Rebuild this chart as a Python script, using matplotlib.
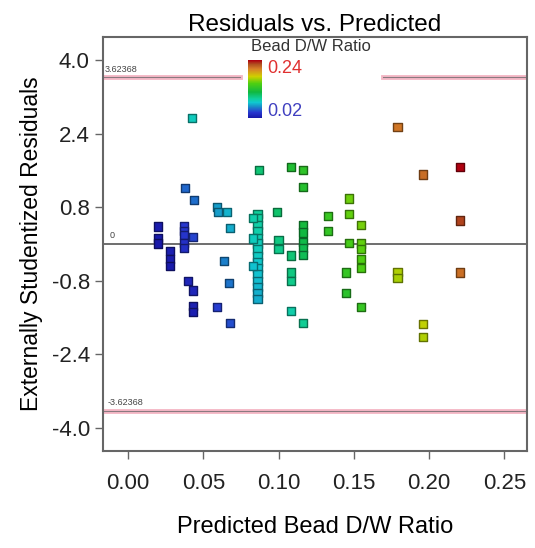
import numpy as np
import matplotlib
matplotlib.use("Agg")
import matplotlib.pyplot as plt
from matplotlib.colors import LinearSegmentedColormap, Normalize, to_rgb

plt.rcParams['font.family'] = ['Liberation Sans', 'DejaVu Sans']

# Predicted value, externally studentized residual, actual (colour) value
predicted = [0.020, 0.020, 0.020, 0.028, 0.028, 0.028,
             0.037, 0.037, 0.037, 0.037, 0.037, 0.043, 0.038, 0.044,
             0.040, 0.043, 0.043, 0.043, 0.0425,
             0.059, 0.060, 0.066, 0.068, 0.064, 0.067, 0.059, 0.068,
             0.086, 0.086, 0.086, 0.086, 0.086, 0.086, 0.086, 0.086,
             0.086, 0.086, 0.086, 0.086, 0.086, 0.086, 0.086,
             0.083, 0.083, 0.083, 0.087,
             0.099, 0.100, 0.100,
             0.108, 0.108, 0.108, 0.108, 0.108,
             0.116, 0.116, 0.116, 0.116, 0.116, 0.116, 0.116, 0.116,
             0.133, 0.133,
             0.147, 0.147, 0.147,
             0.155, 0.155, 0.155, 0.155, 0.155, 0.155,
             0.145, 0.145,
             0.179, 0.179, 0.179,
             0.196, 0.196, 0.196,
             0.2205, 0.2205, 0.2205]
residuals = [0.38, 0.14, 0.01, -0.16, -0.32, -0.47,
             0.40, 0.29, 0.19, 0.03, -0.08, 0.16, 1.21, 0.95,
             -0.80, -1.01, -1.34, -1.47, 2.73,
             0.80, 0.69, 0.69, 0.34, -0.36, -0.84, -1.36, -1.71,
             0.66, 0.56, 0.42, 0.29, 0.14, 0.01, -0.12, -0.27,
             -0.40, -0.53, -0.66, -0.80, -0.93, -1.06, -1.19,
             0.56, 0.12, -0.47, 1.60,
             0.69, 0.08, -0.10,
             1.67, -0.25, -0.62, -0.80, -1.45,
             1.60, 1.23, 0.42, 0.25, 0.05, -0.08, -0.23, -1.71,
             0.60, 0.29,
             0.99, 0.66, 0.03,
             0.42, 0.01, -0.10, -0.32, -0.53, -1.36,
             -0.62, -1.06,
             2.54, -0.60, -0.73,
             1.51, -1.73, -2.02,
             1.67, 0.51, -0.62]
actual = [0.024, 0.022, 0.020, 0.026, 0.024, 0.022,
          0.042, 0.040, 0.039, 0.037, 0.036, 0.045, 0.054, 0.056,
          0.030, 0.030, 0.026, 0.025, 0.085,
          0.068, 0.068, 0.074, 0.072, 0.060, 0.057, 0.044, 0.048,
          0.094, 0.093, 0.091, 0.090, 0.088, 0.086, 0.085, 0.083,
          0.081, 0.080, 0.078, 0.076, 0.075, 0.073, 0.072,
          0.090, 0.085, 0.078, 0.105,
          0.107, 0.101, 0.099,
          0.128, 0.105, 0.101, 0.099, 0.090,
          0.135, 0.130, 0.121, 0.119, 0.117, 0.115, 0.113, 0.096,
          0.140, 0.137,
          0.158, 0.155, 0.147,
          0.160, 0.155, 0.154, 0.151, 0.149, 0.139,
          0.138, 0.133,
          0.210, 0.172, 0.170,
          0.214, 0.175, 0.172,
          0.240, 0.227, 0.213]

limit = 3.62368
color_min, color_max = 0.02, 0.24
x_ticks = [0.00, 0.05, 0.10, 0.15, 0.20, 0.25]
y_ticks = [-4.0, -2.4, -0.8, 0.8, 2.4, 4.0]

cmap = LinearSegmentedColormap.from_list("dx", [
    (0.00, '#1818a8'), (0.10, '#2838d0'), (0.20, '#1890c8'),
    (0.27, '#10c8d0'), (0.33, '#10d0a0'), (0.45, '#10b840'),
    (0.60, '#50d010'), (0.72, '#d0d000'), (0.85, '#d88028'),
    (0.93, '#b05020'), (1.00, '#b00010')])
norm = Normalize(color_min, color_max)

fig = plt.figure(figsize=(5.35, 5.48), dpi=100)
ax = fig.add_axes([0.1925, 0.177, 0.7925, 0.7555])

faces = [cmap(norm(v)) for v in actual]
edges = [tuple(c * 0.55 for c in to_rgb(f)) for f in faces]
ax.scatter(predicted, residuals, marker='s', s=34, c=faces,
           edgecolors=edges, linewidths=1.0, zorder=3)

# reference lines
ax.axhline(0, color='#555555', lw=1.2, zorder=2)
for xmin, xmax in [(0, 0.323), (0.66, 1)]:
    ax.axhline(limit, xmin=xmin, xmax=xmax, color='#f5b8c6', lw=3.5, zorder=1)
    ax.axhline(limit, xmin=xmin, xmax=xmax, color='#8a7a80', lw=0.8, zorder=2)
ax.axhline(-limit, color='#f5b8c6', lw=3.5, zorder=1)
ax.axhline(-limit, color='#8a7a80', lw=0.8, zorder=2)
ax.text(0.005, limit + 0.12, "3.62368", transform=ax.get_yaxis_transform(),
        fontsize=6.5, color='#444444')
ax.text(0.015, 0.12, "0", transform=ax.get_yaxis_transform(),
        fontsize=6.5, color='#444444')
ax.text(0.01, -limit + 0.12, "-3.62368", transform=ax.get_yaxis_transform(),
        fontsize=6.5, color='#444444')

ax.set_xlim(-0.0166, 0.265)
ax.set_ylim(-4.5, 4.5)
ax.set_xticks(x_ticks)
ax.set_xticklabels([f"{t:.2f}" for t in x_ticks])
ax.set_yticks(y_ticks)
ax.set_yticklabels([f"{t:.1f}" for t in y_ticks])
ax.tick_params(labelsize=16, length=6, width=1, color='#666666',
               labelcolor='#222222')
ax.tick_params(axis='x', pad=10)
for s in ax.spines.values():
    s.set_color('#666666')
    s.set_linewidth(1.5)

ax.set_title("Residuals vs. Predicted", fontsize=17.5, pad=4)
ax.set_xlabel("Predicted Bead D/W Ratio", fontsize=17, labelpad=16)
ax.set_ylabel("Externally Studentized Residuals", fontsize=16.5, labelpad=6)

# colour legend
cax = ax.inset_axes([0.342, 0.804, 0.033, 0.14])
cb = fig.colorbar(plt.cm.ScalarMappable(norm=norm, cmap=cmap), cax=cax)
cb.set_ticks([])
cb.outline.set_visible(False)
ax.text(0.49, 0.976, "Bead D/W Ratio", transform=ax.transAxes, ha='center',
        va='center', fontsize=12, color='#333333')
ax.text(0.388, 0.925, "0.24", transform=ax.transAxes, va='center',
        fontsize=13, color='#e03030')
ax.text(0.388, 0.82, "0.02", transform=ax.transAxes, va='center',
        fontsize=13, color='#4040c0')

fig.savefig("out.png", dpi=100)
